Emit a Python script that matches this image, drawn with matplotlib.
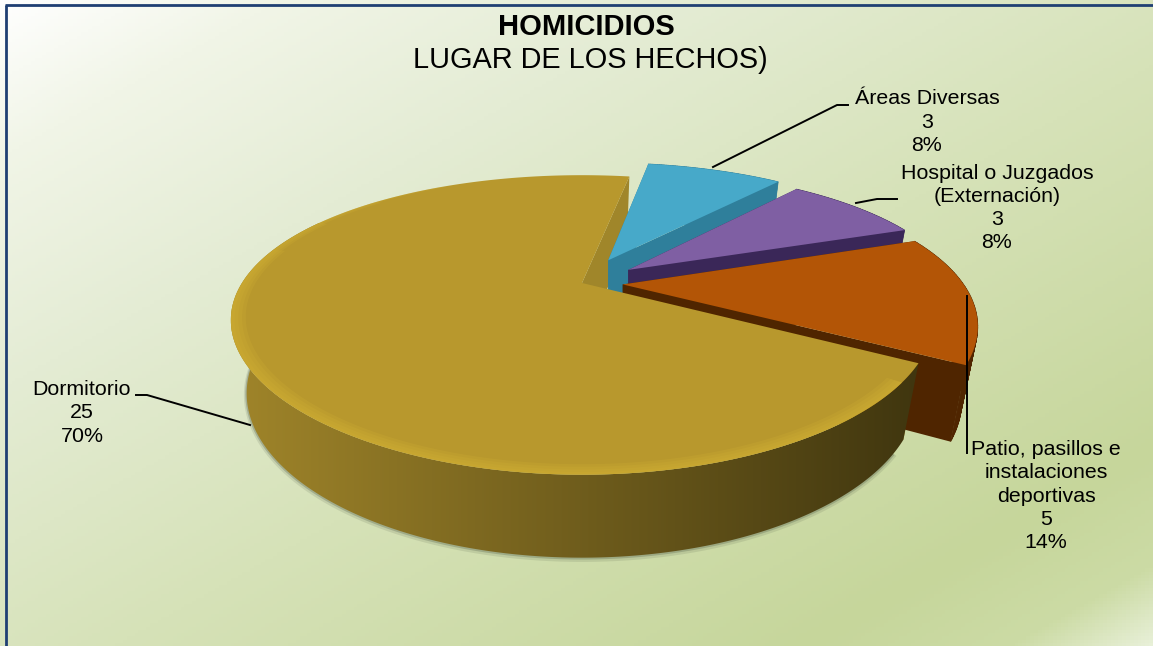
import numpy as np
import matplotlib
matplotlib.use("Agg")
import matplotlib.pyplot as plt
from matplotlib.colors import LinearSegmentedColormap
from matplotlib.patches import Polygon

plt.rcParams['font.family'] = ['Liberation Sans', 'DejaVu Sans']

# data
categories = ["Áreas Diversas", "Hospital o Juzgados\n(Externación)",
              "Patio, pasillos e\ninstalaciones\ndeportivas", "Dormitorio"]
values = [3, 3, 5, 25]
percents = [8, 8, 14, 70]
explode = [0.19, 0.17, 0.12, 0.0]
radius = [0.98, 0.97, 1.0, 1.0]
top_colors = ["#47A9C9", "#7F5FA3", "#B35506", "#B8982D"]
wall_colors = ["#2F7F9B", "#3A2758", "#4F2500", "#A0862A"]

W, H = 1153, 646
x0, y0 = 582, 283      # pie centre on screen
bx, ay = 340, 138      # size of the pie plane
kx, ky = 0.25, 0.28    # perspective
shrink = 0.955
start_deg = 10


def project(u, v):
    return x0 + bx * u / (1 - kx * v), y0 + ay * v / (1 - ky * v)


def ring(th, ox, oy, r=1.0):
    return project(ox + r * np.sin(th), oy - r * np.cos(th))


def drop(th):
    # wall is a bit taller at the near side
    return 70 - 13 * np.cos(th)


def gradient_fill(ax, xs, ys, c1, c2, z):
    cmap = LinearSegmentedColormap.from_list("g", [c1, c2])
    poly = Polygon(np.column_stack([xs, ys]), closed=True, fc="none", ec="none", zorder=z)
    ax.add_patch(poly)
    im = ax.imshow(np.linspace(0, 1, 256).reshape(1, -1), cmap=cmap, aspect="auto",
                   extent=[min(xs), max(xs), max(ys), min(ys)], zorder=z)
    im.set_clip_path(poly)


fig = plt.figure(figsize=(W / 100, H / 100), dpi=100)
ax = fig.add_axes([0, 0, 1, 1])

# background
gx, gy = np.meshgrid(np.linspace(0, 1, 300), np.linspace(0, 1, 200))
t = (gx + gy) / 2
stops = [0, 0.12, 0.3, 0.55, 0.85, 0.94, 1.0]
cols = np.array([[255, 255, 255], [241, 245, 231], [228, 236, 212], [214, 226, 184],
                 [198, 214, 155], [204, 219, 165], [232, 240, 216]]) / 255
bg = np.dstack([np.interp(t, stops, cols[:, i]) for i in range(3)])
ax.imshow(bg, extent=[0, W, H, 0], aspect="auto", zorder=0)

angles = np.radians(start_deg + np.cumsum([0] + values) * 360 / sum(values))

# soft shadow under the pie
th = np.radians(np.linspace(125, 272, 200))
sx, sy = ring(th, 0, 0)
sx = x0 + (sx - x0) * shrink
sy = sy + drop(th)
ax.plot(sx, sy + 1.5, color="#55604a", lw=4, alpha=0.15, zorder=1)
ax.plot(sx, sy + 0.5, color="#55604a", lw=2, alpha=0.3, zorder=1)

order = [3, 0, 1, 2]
z = 2
for i in order:
    a, b = angles[i], angles[i + 1]
    mid = (a + b) / 2
    ox, oy = explode[i] * np.sin(mid), -explode[i] * np.cos(mid)
    ax_x, ax_y = project(ox, oy)
    th = np.linspace(a, b, 61)
    xs, ys = ring(th, ox, oy, radius[i])
    lx = ax_x + (xs - ax_x) * shrink
    ly = ys + drop(th)
    aly = ax_y + drop(mid)
    # cut faces
    for j in (0, -1):
        ax.fill([ax_x, xs[j], lx[j], ax_x], [ax_y, ys[j], ly[j], aly],
                color=wall_colors[i], lw=0, zorder=z)
    z += 1
    if i == 3:
        continue
    # outer wall in small pieces, one outline folds over itself near the corner
    for j in range(len(th) - 1):
        ax.fill([xs[j], xs[j + 1], lx[j + 1], lx[j]], [ys[j], ys[j + 1], ly[j + 1], ly[j]],
                color=wall_colors[i], lw=0.5, zorder=z)
    ax.fill(np.r_[ax_x, xs], np.r_[ax_y, ys], color=top_colors[i], lw=0, zorder=z + 1)
    z += 2

# the big slice goes on top of everything
a, b = angles[3], angles[4]
th = np.linspace(a, b, 500)
xs, ys = ring(th, 0, 0)
front = th < np.radians(300)   # the back of the wall is hidden anyway
fx, fy = xs[front], ys[front]
lx = x0 + (fx - x0) * shrink
ly = fy + drop(th[front])
gradient_fill(ax, np.r_[fx, lx[::-1]], np.r_[fy, ly[::-1]], "#A0852A", "#40360F", z)
z += 1
ax.fill(np.r_[x0, xs], np.r_[y0, ys], color=top_colors[3], lw=0, zorder=z)
z += 1
# bevel at the rim, fades out away from the front-left
for r, deg in zip([0.99, 0.98, 0.97, 0.96], [330, 315, 300, 285]):
    th2 = np.linspace(a + 0.12, np.radians(deg), 300)
    xa, ya = ring(th2, 0, 0)
    xb, yb = ring(th2, 0, 0, r)
    ax.fill(np.r_[xa, xb[::-1]], np.r_[ya, yb[::-1]], color="#D2B034", alpha=0.22, lw=0, zorder=z)
z += 1

# leader lines
leaders = [([713, 837, 848], [167, 105, 105]),
           ([856, 877, 897], [203, 199, 199]),
           ([967, 967], [296, 453]),
           ([250, 147, 136], [425, 395, 395])]
for lx_, ly_ in leaders:
    ax.plot(lx_, ly_, color="black", lw=1.4, zorder=z)

# data labels
label_pos = [(927, 122), (997, 208), (1046, 496), (82, 413)]
for name, val, pct, (px, py) in zip(categories, values, percents, label_pos):
    ax.text(px, py, f"{name}\n{val}\n{pct}%", ha="center", va="center", fontsize=15.4,
            linespacing=1.27, color="black", zorder=z)

# title
ax.text(586, 27, "HOMICIDIOS", ha="center", va="center", fontsize=21,
        fontweight="bold", zorder=z)
ax.text(590, 60, "LUGAR DE LOS HECHOS)", ha="center", va="center", fontsize=20.8, zorder=z)

# frame, only left and top show
ax.plot([6, 6], [H, 5], color="#1F3F73", lw=2, zorder=z, solid_capstyle="butt")
ax.plot([5, W], [5, 5], color="#1F3F73", lw=2, zorder=z, solid_capstyle="butt")

ax.set_xlim(0, W)
ax.set_ylim(H, 0)
ax.axis("off")
fig.savefig("out.png", dpi=100)
